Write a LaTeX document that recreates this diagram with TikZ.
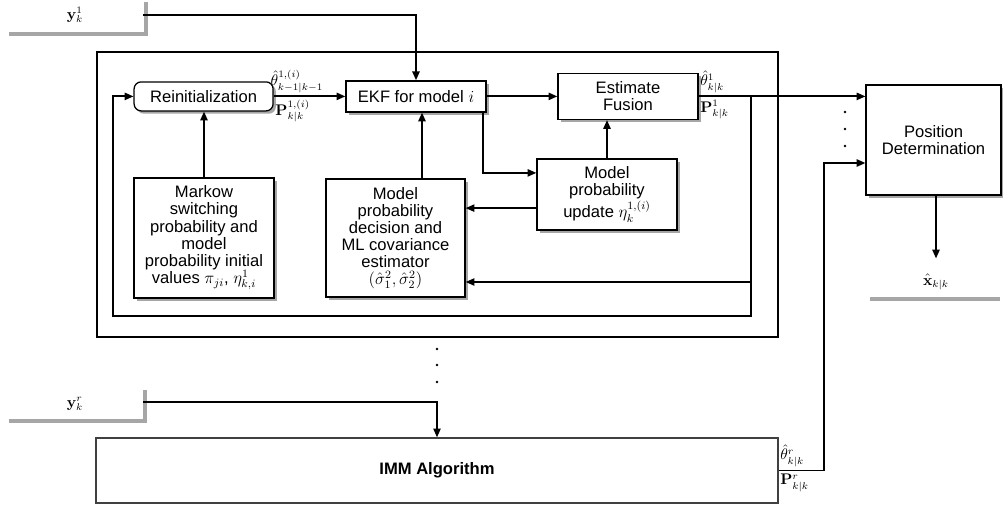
\documentclass[tikz,border=0pt]{standalone}
\usepackage[no-math]{fontspec}
\usepackage{amsmath}
\usetikzlibrary{arrows.meta,shadows,calc}
\newfontfamily\helv{Liberation Sans}
\tikzset{
	plainblk/.style={draw=black, line width=0.9pt, fill=white, align=center, inner sep=2pt, font=\helv\fontsize{11.8}{12.2}\selectfont},
	blk/.style={plainblk, drop shadow={shadow xshift=0.07cm, shadow yshift=-0.07cm, fill=black!35, opacity=1}},
	wire/.style={line width=1.3pt, -{Triangle[length=2.2mm,width=1.8mm]}},
	lbl/.style={font=\fontsize{10.5}{12}\selectfont, inner sep=1pt},
	uplbl/.style={lbl, anchor=south west, yshift=1.5pt},
	lowlbl/.style={lbl, anchor=north west, yshift=-1.5pt},
	inbar/.style={line width=2.2pt, color=black!35},
}

\begin{document}
\begin{tikzpicture}
	%%%%% START %%%%%
	\useasboundingbox (0, 0) rectangle (25.075, -12.7);

	% frame of the first filter bank
	\draw[line width=0.9pt] (2.425, -1.3) rectangle (19.45, -8.425);

	\node[blk, rounded corners=5pt, minimum width=3.475cm, minimum height=0.725cm] (reinit) at (5.09, -2.41) {Reinitialization};
	\node[blk, minimum width=3.5cm, minimum height=0.775cm] (ekf) at (10.4, -2.41) {EKF for model $i$};
	\node[blk, minimum width=3.5cm, minimum height=1.15cm] (fusion) at (15.7, -2.41) {Estimate\\Fusion};
	\node[blk, minimum width=3.5cm, minimum height=1.775cm] (update) at (15.175, -4.8625) {Model\\probability\\update $\eta_k^{1,(i)}$};
	\node[blk, minimum width=3.475cm, minimum height=2.95cm] (decision) at (9.8875, -5.95) {Model\\probability\\decision and\\ML covariance\\estimator\\$(\hat{\sigma}_1^2,\hat{\sigma}_2^2)$};
	\node[blk, minimum width=3.5cm, minimum height=3cm] (markow) at (5.1, -5.95) {Markow\\switching\\probability and\\model\\probability initial\\values $\pi_{ji}$, $\eta_{k,i}^1$};
	\node[blk, minimum width=3.375cm, minimum height=2.75cm] (posdet) at (23.34, -3.5) {Position\\Determination};

	\node[plainblk, draw=black!75, minimum width=17.05cm, minimum height=1.625cm, font=\helv\bfseries\fontsize{11.8}{12.2}\selectfont] (imm) at (10.925, -11.7625) {IMM Algorithm};

	% measurements
	\node[lbl] (yone) at (1.875, -0.375) {$\mathbf{y}_k^1$};
	\draw[inbar] (0.225, -0.85) -- (3.65, -0.85) -- (3.65, -0.05);
	\coordinate (yoneout) at (3.575, -0.375);
	\draw[wire] (yoneout) -| (ekf.north);

	\node[lbl] (yr) at (1.875, -10.1) {$\mathbf{y}_k^r$};
	\draw[inbar] (0.225, -10.525) -- (3.625, -10.525) -- (3.625, -9.75);
	\coordinate (yrout) at (3.575, -10.05);
	\draw[wire] (yrout) -| (imm.north);

	% inside the bank
	\draw[wire] (reinit.east) -- (reinit.east -| ekf.west);
	\draw[wire] (ekf.east) -- (ekf.east -| fusion.west);
	\draw[wire] (markow.north) -- (markow.north |- reinit.south);
	\draw[wire] ([xshift=0.15cm]ekf.south |- decision.north) -- ([xshift=0.15cm]ekf.south);
	\draw[wire] ([xshift=-0.1cm]ekf.south east) |- ([yshift=0.54cm]update.west);
	\draw[wire] (update.north) -- (update.north |- fusion.south);
	\draw[wire] ([yshift=-0.34cm]update.west) -- ([yshift=-0.34cm]update.west -| decision.east);

	\node[uplbl] (thprev) at ([xshift=-0.12cm]reinit.east) {$\hat{\theta}_{k-1|k-1}^{1,(i)}$};
	\node[lowlbl] (pprev) at (reinit.east) {$\mathbf{P}_{k|k}^{1,(i)}$};

	% fused estimate, out and back
	\draw[wire] (fusion.east) -- (fusion.east -| posdet.west);
	\node[uplbl] (thone) at (fusion.east) {$\hat{\theta}_{k|k}^1$};
	\node[lowlbl] (pone) at (fusion.east) {$\mathbf{P}_{k|k}^1$};

	\coordinate (fb) at (18.775, -2.41);
	\coordinate (fbmid) at (18.775, -7.05);
	\coordinate (fbbot) at (18.775, -7.9);
	\coordinate (fbleft) at (2.825, -7.9);
	\draw[wire] (fb) -- (fbmid) -- (fbmid -| decision.east);
	\draw[wire] (fbmid) -- (fbbot) -- (fbleft) |- (reinit.west);

	\foreach \y in {-2.8, -3.225, -3.65}
		\fill (21.125, \y) circle (0.035);
	\foreach \y in {-8.725, -9.125, -9.55}
		\fill (10.925, \y) circle (0.035);

	% r-th bank
	\coordinate (rup) at (20.6, -4.075);
	\draw[wire] (imm.east) -| (rup) -- (rup -| posdet.west);
	\node[uplbl] (thr) at (imm.east) {$\hat{\theta}_{k|k}^r$};
	\node[lowlbl] (pr) at (imm.east) {$\mathbf{P}_{k|k}^r$};

	% position estimate
	\node[lbl] (xhat) at (23.4, -7.05) {$\hat{\mathbf{x}}_{k|k}$};
	\draw[inbar] (21.75, -7.475) -- (25.0, -7.475);
	\draw[wire] (posdet.south -| xhat.north) -- ([yshift=0.35cm]xhat.north);

	%%%%% END %%%%%
\end{tikzpicture}
\end{document}
